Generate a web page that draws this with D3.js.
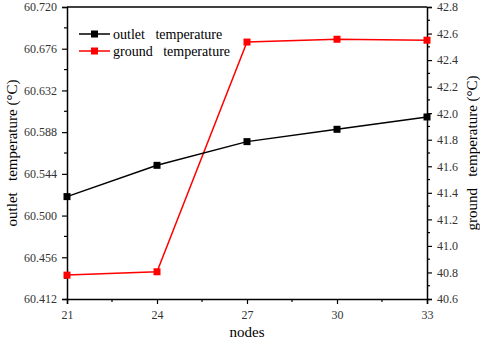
<!DOCTYPE html>
<html><head><meta charset="utf-8">
<script src="https://cdn.jsdelivr.net/npm/d3@7"></script>
<style>body{margin:0;background:#fff}svg{display:block}svg text{font-family:"Liberation Serif","Times New Roman",Times,"DejaVu Serif",serif !important}</style>
</head><body><svg id="c" width="480" height="342"></svg>
<script>
const nodes = [21, 24, 27, 30, 33];
const outletTemp = [60.520, 60.553, 60.578, 60.591, 60.604];
const groundTemp = [40.78, 40.805, 42.536, 42.557, 42.55];
const leftTicks = [60.412, 60.456, 60.500, 60.544, 60.588, 60.632, 60.676, 60.720];
const rightTicks = [40.6, 40.8, 41.0, 41.2, 41.4, 41.6, 41.8, 42.0, 42.2, 42.4, 42.6, 42.8];
const xTicks = [21, 24, 27, 30, 33];

const svg = d3.select("#c");
const L = 67, R = 427, T = 7, B = 299;
const x = d3.scaleLinear().domain([21, 33]).range([L, R]);
const yL = d3.scaleLinear().domain([60.412, 60.720]).range([B, T]);
const yR = d3.scaleLinear().domain([40.6, 42.8]).range([B, T]);

svg.append("line").attr("x1", L).attr("x2", R).attr("y1", T).attr("y2", T).attr("stroke", "#000").attr("stroke-width", 1.5);

function styleAxis(g) {
  g.attr("font-family", null);
  g.select(".domain").attr("stroke", "#000").attr("stroke-width", 1.5);
  g.selectAll(".tick line").attr("stroke", "#000").attr("stroke-width", 1.2);
  g.selectAll(".tick text").attr("fill", "#333").style("font-size", "12px");
}
const xMinor = d3.range(22.5, 33, 3);
const lMinor = d3.range(0, 7).map(i => 60.434 + i * 0.044);
const rMinor = d3.range(0, 11).map(i => 40.7 + i * 0.2);

const gx = svg.append("g").attr("transform", `translate(0,${B})`)
  .call(d3.axisBottom(x).tickValues(xTicks).tickSize(5).tickPadding(6).tickFormat(d3.format("d")));
styleAxis(gx);
gx.selectAll(".minor").data(xMinor).enter().append("line").attr("x1", d => x(d)).attr("x2", d => x(d)).attr("y1", 0).attr("y2", 3).attr("stroke", "#000").attr("stroke-width", 1.2);

const gl = svg.append("g").attr("transform", `translate(${L},0)`)
  .call(d3.axisLeft(yL).tickValues(leftTicks).tickSize(5).tickPadding(5).tickFormat(d3.format(".3f")));
styleAxis(gl);
gl.selectAll(".minor").data(lMinor).enter().append("line").attr("y1", d => yL(d)).attr("y2", d => yL(d)).attr("x1", 0).attr("x2", -3).attr("stroke", "#000").attr("stroke-width", 1.2);

const gr = svg.append("g").attr("transform", `translate(${R},0)`)
  .call(d3.axisRight(yR).tickValues(rightTicks).tickSize(5).tickPadding(5).tickFormat(d3.format(".1f")));
styleAxis(gr);
gr.selectAll(".minor").data(rMinor).enter().append("line").attr("y1", d => yR(d)).attr("y2", d => yR(d)).attr("x1", 0).attr("x2", 3).attr("stroke", "#000").attr("stroke-width", 1.2);

const lineL = d3.line().x((d, i) => x(nodes[i])).y(d => yL(d));
const lineR = d3.line().x((d, i) => x(nodes[i])).y(d => yR(d));
svg.append("path").attr("d", lineR(groundTemp)).attr("fill", "none").attr("stroke", "#ff0000").attr("stroke-width", 1.5);
svg.append("path").attr("d", lineL(outletTemp)).attr("fill", "none").attr("stroke", "#000").attr("stroke-width", 1.5);
const ms = 7;
svg.selectAll(".mr").data(groundTemp).enter().append("rect")
  .attr("x", (d, i) => x(nodes[i]) - ms / 2).attr("y", d => yR(d) - ms / 2).attr("width", ms).attr("height", ms).attr("fill", "#ff0000");
svg.selectAll(".mb").data(outletTemp).enter().append("rect")
  .attr("x", (d, i) => x(nodes[i]) - ms / 2).attr("y", d => yL(d) - ms / 2).attr("width", ms).attr("height", ms).attr("fill", "#000");

const legend = [["outlet   temperature", "#000"], ["ground   temperature", "#ff0000"]];
legend.forEach((d, i) => {
  const ly = 34 + i * 17;
  svg.append("line").attr("x1", 79).attr("x2", 110).attr("y1", ly).attr("y2", ly).attr("stroke", d[1]).attr("stroke-width", 1.5);
  svg.append("rect").attr("x", 94.5 - ms / 2).attr("y", ly - ms / 2).attr("width", ms).attr("height", ms).attr("fill", d[1]);
  svg.append("text").attr("x", 113).attr("y", ly + 5).attr("fill", "#000").style("font-size", "14px").style("white-space", "pre").text(d[0]);
});

svg.append("text").attr("x", 247).attr("y", 337).attr("text-anchor", "middle").style("font-size", "15px").text("nodes");
svg.append("text").attr("transform", `translate(17,${(T + B) / 2}) rotate(-90)`).attr("text-anchor", "middle").style("font-size", "15px").style("white-space", "pre").text("outlet   temperature (°C)");
svg.append("text").attr("transform", `translate(477,${(T + B) / 2}) rotate(-90)`).attr("text-anchor", "middle").style("font-size", "15px").style("white-space", "pre").text("ground   temperature (°C)");
</script></body></html>
